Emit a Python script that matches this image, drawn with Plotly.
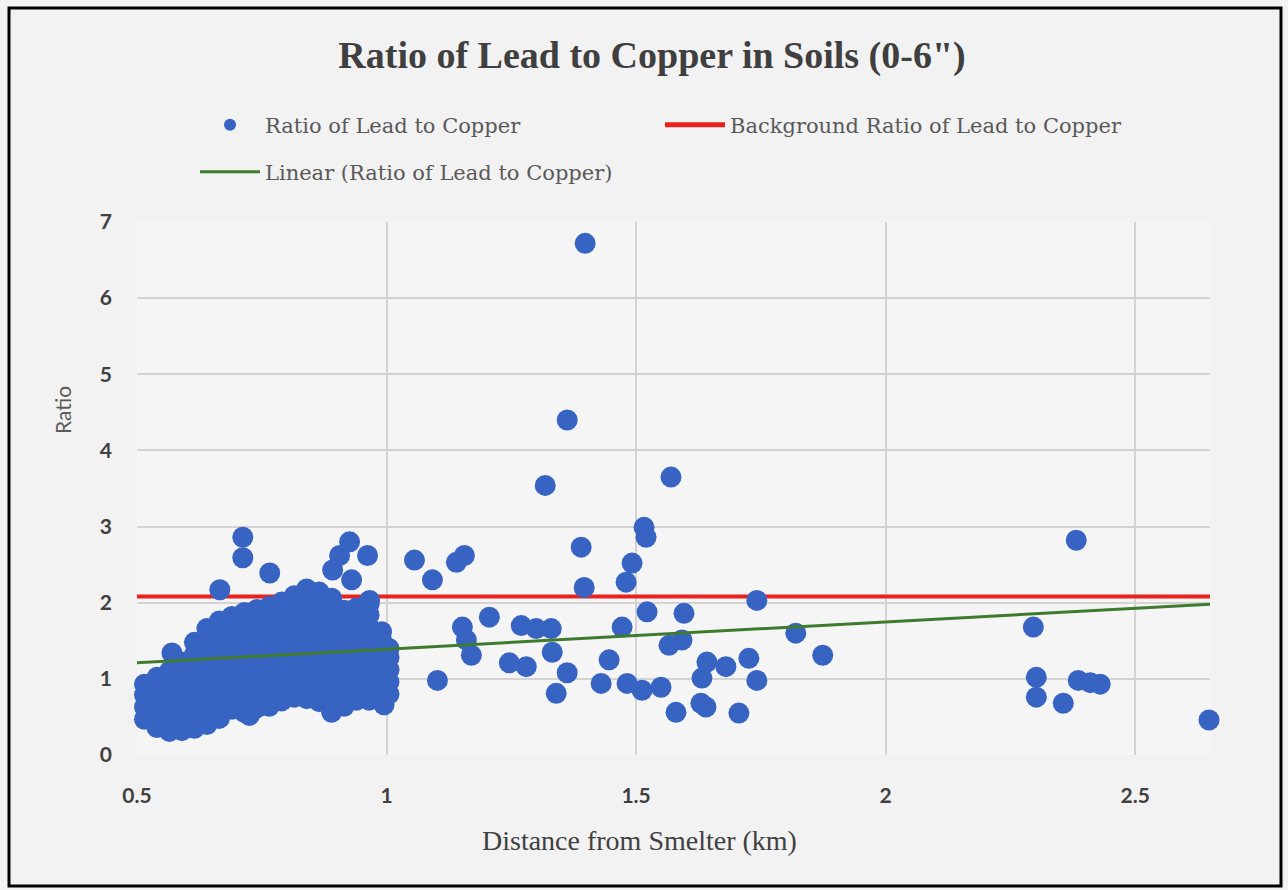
import plotly.graph_objects as go

# ---------------- data ----------------
# dense cluster near the smelter (0.5 - 1.0 km)
cluster_x = (
    [0.515] * 4 + [0.54] * 5 + [0.565] * 6 + [0.59] * 7 + [0.615] * 8 +
    [0.64] * 9 + [0.665] * 9 + [0.69] * 9 + [0.715] * 9 + [0.74] * 9 +
    [0.765] * 9 + [0.79] * 9 + [0.815] * 9 + [0.84] * 10 + [0.865] * 10 +
    [0.89] * 10 + [0.915] * 9 + [0.94] * 9 + [0.965] * 9 + [0.99] * 7 +
    [1.005] * 5 + [0.725, 0.995]
)
cluster_y = [
    0.47, 0.63, 0.79, 0.93,
    0.36, 0.52, 0.68, 0.84, 1.02,
    0.31, 0.47, 0.63, 0.79, 0.95, 1.10,
    0.32, 0.48, 0.64, 0.80, 0.96, 1.10, 1.22,
    0.35, 0.51, 0.67, 0.83, 0.99, 1.15, 1.32, 1.48,
    0.40, 0.56, 0.72, 0.88, 1.04, 1.20, 1.36, 1.52, 1.66,
    0.48, 0.64, 0.80, 0.96, 1.12, 1.28, 1.44, 1.60, 1.76,
    0.60, 0.76, 0.92, 1.08, 1.24, 1.40, 1.56, 1.70, 1.82,
    0.56, 0.72, 0.88, 1.04, 1.20, 1.36, 1.52, 1.68, 1.87,
    0.62, 0.78, 0.94, 1.10, 1.26, 1.42, 1.58, 1.74, 1.91,
    0.64, 0.80, 0.96, 1.12, 1.28, 1.44, 1.60, 1.78, 1.95,
    0.71, 0.87, 1.03, 1.19, 1.35, 1.51, 1.67, 1.84, 2.01,
    0.76, 0.92, 1.08, 1.24, 1.40, 1.56, 1.72, 1.90, 2.09,
    0.74, 0.90, 1.06, 1.22, 1.38, 1.54, 1.70, 1.86, 2.02, 2.18,
    0.70, 0.86, 1.02, 1.18, 1.34, 1.50, 1.66, 1.82, 1.98, 2.14,
    0.56, 0.72, 0.88, 1.04, 1.20, 1.36, 1.52, 1.68, 1.86, 2.06,
    0.64, 0.80, 0.96, 1.12, 1.28, 1.44, 1.60, 1.76, 1.90,
    0.72, 0.88, 1.04, 1.20, 1.36, 1.52, 1.68, 1.82, 1.93,
    0.72, 0.88, 1.04, 1.20, 1.36, 1.52, 1.68, 1.84, 1.98,
    0.70, 0.86, 1.02, 1.18, 1.34, 1.50, 1.62,
    0.80, 0.96, 1.12, 1.28, 1.40,
    0.52, 0.66,
]

# scattered samples
outlier_x = [
    0.57, 0.666, 0.712, 0.712, 0.766, 0.892, 0.906, 0.926, 0.93, 0.962, 0.966,
    1.056, 1.092, 1.14, 1.156, 1.102, 1.152, 1.16, 1.17, 1.206,
    1.246, 1.28, 1.27, 1.30, 1.33, 1.332, 1.362, 1.34,
    1.318, 1.362, 1.398, 1.57, 1.39, 1.396,
    1.446, 1.43, 1.482, 1.512, 1.55, 1.58,
    1.472, 1.48, 1.492, 1.516, 1.52, 1.522, 1.566, 1.592, 1.596,
    1.632, 1.642, 1.64, 1.63, 1.68, 1.706, 1.726, 1.742, 1.742, 1.82, 1.874,
    2.296, 2.302, 2.302, 2.356, 2.382, 2.386, 2.41, 2.43, 2.648,
]
outlier_y = [
    1.34, 2.17, 2.86, 2.59, 2.39, 2.43, 2.62, 2.80, 2.30, 2.62, 2.03,
    2.56, 2.30, 2.53, 2.62, 0.98, 1.68, 1.51, 1.31, 1.81,
    1.21, 1.16, 1.70, 1.66, 1.66, 1.35, 1.08, 0.81,
    3.54, 4.40, 6.72, 3.65, 2.73, 2.20,
    1.25, 0.94, 0.94, 0.85, 0.89, 0.56,
    1.68, 2.27, 2.52, 2.99, 2.86, 1.88, 1.44, 1.51, 1.86,
    1.01, 1.22, 0.63, 0.68, 1.16, 0.55, 1.27, 0.98, 2.03, 1.60, 1.31,
    1.68, 1.02, 0.76, 0.68, 2.82, 0.98, 0.95, 0.93, 0.46,
]

background_x = [0.5, 2.65]
background_y = [2.08, 2.08]

trend_x = [0.5, 2.65]
trend_y = [1.21, 1.98]

x_ticks = [0.5, 1, 1.5, 2, 2.5]
x_tick_labels = ["0.5", "1", "1.5", "2", "2.5"]
y_ticks = [0, 1, 2, 3, 4, 5, 6, 7]

# ---------------- figure ----------------
W, H = 1288, 890
ML, MR, MT, MB = 137, 78, 222, 135
PW, PH = W - ML - MR, H - MT - MB


def px_x(px):
    return (px - ML) / PW


def px_y(py):
    return (H - MB - py) / PH


fig = go.Figure()

fig.add_trace(go.Scatter(
    x=background_x, y=background_y, mode="lines",
    name="Background Ratio of Lead to Copper",
    line=dict(color="#E8231F", width=4),
    legend="legend", legendrank=2,
))

fig.add_trace(go.Scatter(
    x=cluster_x + outlier_x, y=cluster_y + outlier_y, mode="markers",
    name="Ratio of Lead to Copper",
    marker=dict(color="#3764C2", size=21, line=dict(width=0)),
    cliponaxis=False,
    legend="legend", legendrank=1,
))

fig.add_trace(go.Scatter(
    x=trend_x, y=trend_y, mode="lines",
    name="Linear (Ratio of Lead to Copper)",
    line=dict(color="#3E7B2C", width=3),
    legend="legend2",
))

legend_font = dict(family="DejaVu Serif", size=21, color="#595959")

fig.update_layout(
    width=W, height=H,
    margin=dict(l=ML, r=MR, t=MT, b=MB),
    paper_bgcolor="#F2F2F2",
    plot_bgcolor="#F5F5F5",
    title=dict(
        text='Ratio of Lead to Copper in Soils (0-6")',
        x=652 / W, xref="container", xanchor="center",
        y=1 - 55 / H, yref="container", yanchor="middle",
        font=dict(family="Liberation Serif", size=38, color="#3F3F3F", weight="bold"),
    ),
    legend=dict(
        orientation="h", x=px_x(195), xanchor="left",
        y=px_y(125), yanchor="middle",
        font=legend_font, itemwidth=60, itemsizing="constant",
        entrywidth=390, bgcolor="rgba(0,0,0,0)",
        traceorder="normal",
    ),
    legend2=dict(
        orientation="h", x=px_x(195), xanchor="left",
        y=px_y(172), yanchor="middle",
        font=legend_font, itemwidth=60,
        bgcolor="rgba(0,0,0,0)",
    ),
    xaxis=dict(
        range=[0.5, 2.65], tickvals=x_ticks, ticktext=x_tick_labels,
        showgrid=True, gridcolor="#D3D3D3", gridwidth=2,
        zeroline=False, showline=False, ticks="",
        ticklabelstandoff=26,
        tickfont=dict(family="Lato", size=21, color="#404040", weight="bold"),
    ),
    yaxis=dict(
        range=[0, 7], tickvals=y_ticks,
        showgrid=True, gridcolor="#D3D3D3", gridwidth=2,
        zeroline=False, showline=False, ticks="",
        ticklabelstandoff=24,
        tickfont=dict(family="Lato", size=21, color="#404040", weight="bold"),
    ),
    showlegend=True,
)

# axis titles
fig.add_annotation(
    text="Distance from Smelter (km)", xref="paper", yref="paper",
    x=px_x(639), y=px_y(840), xanchor="center", yanchor="middle",
    showarrow=False,
    font=dict(family="Liberation Serif", size=28, color="#404040"),
)
fig.add_annotation(
    text="Ratio", xref="paper", yref="paper",
    x=px_x(62), y=px_y(410), xanchor="center", yanchor="middle",
    textangle=-90, showarrow=False,
    font=dict(family="Lato", size=21, color="#595959"),
)

# chart border
fig.add_shape(
    type="rect", xref="paper", yref="paper",
    x0=px_x(9), x1=px_x(1281), y0=px_y(886), y1=px_y(8),
    line=dict(color="#000000", width=3), fillcolor="rgba(0,0,0,0)",
    layer="below",
)

fig.write_html(
    "out.html",
    config={"displayModeBar": False},
    post_script="document.body.style.margin='0px';document.body.style.overflow='hidden';",
)
